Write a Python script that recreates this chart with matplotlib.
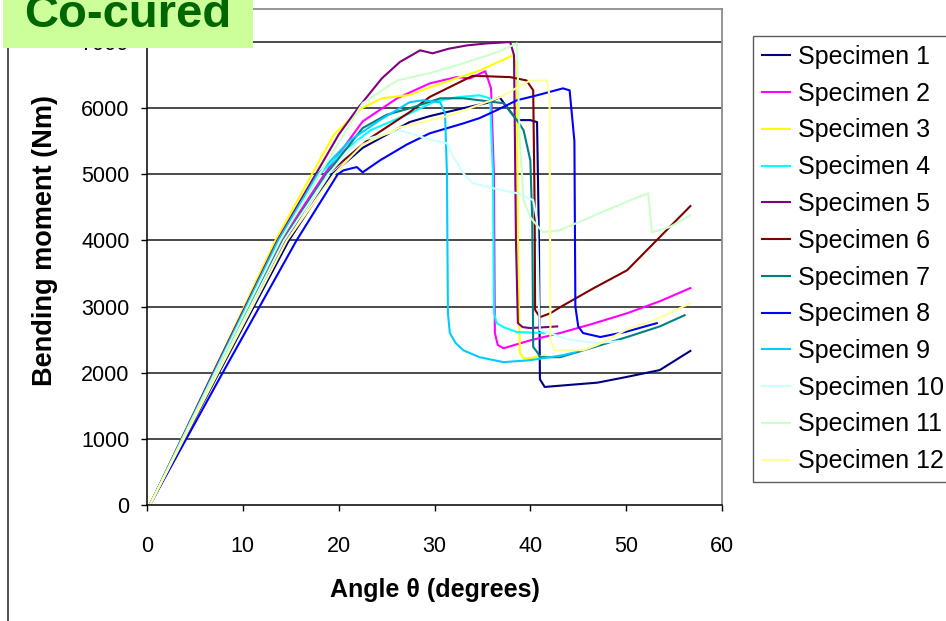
import matplotlib
matplotlib.use("Agg")
import matplotlib.pyplot as plt
from matplotlib.lines import Line2D
from matplotlib.patches import Rectangle

plt.rcParams['font.family'] = ['Liberation Sans', 'DejaVu Sans']

# Bending moment (Nm) against rotation angle (degrees) for each specimen
s1_angle = [0.3, 7.5, 14.8, 19.3, 22.5, 27.4, 29.5, 33.0, 35.5, 36.8, 37.4, 38.6, 40.0, 40.7, 40.9, 41.0, 41.5, 44.0, 47.0, 50.0, 53.5, 56.7]
s1_moment = [0, 2000, 4000, 5000, 5400, 5790, 5880, 6000, 6080, 6165, 6045, 5820, 5820, 5790, 4000, 1900, 1785, 1815, 1850, 1935, 2040, 2330]

s2_angle = [0.3, 7.1, 14.0, 18.5, 22.5, 26.1, 29.5, 32.3, 33.7, 35.3, 35.9, 36.2, 36.3, 36.6, 37.2, 40.0, 43.1, 46.5, 50.1, 53.5, 56.7]
s2_moment = [0, 2000, 4000, 5000, 5800, 6150, 6375, 6470, 6450, 6560, 6300, 5000, 2600, 2420, 2370, 2490, 2600, 2740, 2900, 3080, 3280]

s3_angle = [0.3, 6.9, 13.4, 17.2, 19.5, 22.4, 24.5, 27.4, 29.5, 34.7, 38.2, 38.6, 38.7, 38.9, 39.3, 40.0, 41.5]
s3_moment = [0, 2000, 4000, 5000, 5600, 6000, 6150, 6200, 6315, 6570, 6800, 6600, 4000, 2300, 2220, 2220, 2260]

s4_angle = [0.3, 7.0, 13.8, 18.0, 20.5, 23.3, 27.4, 30.0, 32.3, 34.7, 35.8, 36.1, 36.2, 36.5, 37.2, 38.6, 41.5]
s4_moment = [0, 2000, 4000, 5000, 5350, 5665, 5920, 6100, 6165, 6195, 6150, 5000, 2900, 2750, 2690, 2615, 2600]

s5_angle = [0.3, 6.9, 13.6, 17.6, 20.0, 22.0, 24.5, 26.4, 28.5, 29.8, 31.5, 33.4, 35.5, 37.9, 38.3, 38.5, 38.7, 39.2, 40.0, 42.8]
s5_moment = [0, 2000, 4000, 5000, 5600, 6000, 6450, 6700, 6875, 6830, 6900, 6950, 6980, 7000, 6800, 4000, 2750, 2690, 2675, 2700]

s6_angle = [0.3, 7.3, 14.4, 18.8, 23.3, 27.4, 29.5, 33.0, 34.0, 37.9, 39.6, 40.3, 40.45, 40.5, 41.0, 42.1, 43.1, 46.5, 50.1, 53.5, 56.7]
s6_moment = [0, 2000, 4000, 5000, 5550, 5940, 6170, 6420, 6490, 6470, 6420, 6270, 4500, 2950, 2840, 2900, 2990, 3270, 3550, 4050, 4520]

s7_angle = [0.3, 7.2, 14.2, 18.7, 22.5, 25.0, 27.8, 30.6, 33.0, 34.7, 37.2, 38.6, 39.3, 40.0, 40.2, 40.3, 40.8, 41.0, 43.1, 46.5, 50.1, 53.5, 56.1]
s7_moment = [0, 2000, 4000, 5000, 5700, 5900, 6015, 6150, 6150, 6120, 6075, 5820, 5665, 5210, 4305, 2390, 2295, 2235, 2235, 2380, 2540, 2700, 2870]

s8_angle = [0.3, 7.9, 15.6, 19.9, 20.5, 21.9, 22.5, 24.3, 27.1, 29.5, 33.0, 34.7, 36.5, 38.6, 40.7, 43.4, 44.1, 44.6, 44.7, 45.0, 45.5, 47.3, 50.0, 53.2]
s8_moment = [0, 2000, 4000, 5000, 5060, 5110, 5030, 5210, 5450, 5620, 5770, 5850, 5970, 6120, 6195, 6300, 6270, 5500, 3000, 2700, 2600, 2540, 2620, 2750]

s9_angle = [0.3, 7.0, 13.7, 17.8, 21.2, 24.3, 27.4, 28.8, 30.6, 31.1, 31.3, 31.4, 31.6, 32.2, 33.0, 34.7, 37.2, 40.0, 43.4, 44.7]
s9_moment = [0, 2000, 4000, 5000, 5515, 5820, 6090, 6120, 6090, 5920, 5000, 2900, 2600, 2450, 2340, 2235, 2160, 2190, 2265, 2310]

s10_angle = [0.3, 7.3, 14.3, 18.9, 22.0, 26.4, 29.8, 31.3, 32.0, 33.0, 34.0, 36.1, 38.6, 40.3, 40.7, 40.9, 41.0, 42.0, 44.0, 47.0, 49.5]
s10_moment = [0, 2000, 4000, 5000, 5500, 5665, 5515, 5470, 5260, 5015, 4865, 4790, 4715, 4610, 4305, 3000, 2645, 2600, 2500, 2450, 2480]

s11_angle = [0.3, 7.1, 13.9, 18.0, 22.5, 26.1, 29.5, 33.0, 36.5, 38.6, 38.9, 39.3, 40.0, 41.3, 43.1, 47.0, 50.0, 52.3, 52.5, 52.7, 54.5, 56.7]
s11_moment = [0, 2000, 4000, 5000, 6075, 6420, 6530, 6680, 6845, 6980, 5500, 4610, 4350, 4125, 4155, 4400, 4580, 4715, 4400, 4125, 4200, 4380]

s12_angle = [0.3, 7.4, 14.6, 19.5, 22.5, 26.4, 31.6, 36.8, 40.0, 41.7, 42.0, 42.1, 42.5, 45.5, 47.0, 50.0, 53.0, 56.7]
s12_moment = [0, 2000, 4000, 5000, 5450, 5710, 5890, 6165, 6420, 6420, 6200, 2500, 2340, 2340, 2420, 2650, 2800, 3050]

labels = [f"Specimen {i}" for i in range(1, 13)]
colors = ["#000080", "#FF00FF", "#FFFF00", "#00FFFF", "#800080", "#800000",
          "#008080", "#0000FF", "#00CCFF", "#CCFFFF", "#CCFFCC", "#FFFF99"]

angles = [s1_angle, s2_angle, s3_angle, s4_angle, s5_angle, s6_angle,
          s7_angle, s8_angle, s9_angle, s10_angle, s11_angle, s12_angle]
moments = [s1_moment, s2_moment, s3_moment, s4_moment, s5_moment, s6_moment,
           s7_moment, s8_moment, s9_moment, s10_moment, s11_moment, s12_moment]

W, H = 946, 621
fig = plt.figure(figsize=(W / 100, H / 100), dpi=100)
fig.patch.set_facecolor("white")

ax = fig.add_axes([147 / W, 1 - 505 / H, (722 - 147) / W, (505 - 9) / H])
ax.set_xlim(0, 60)
ax.set_ylim(0, 7500)

for y in range(1000, 8000, 1000):
    ax.axhline(y, color="#1a1a1a", lw=1.1, zorder=1)

handles = []
for a, m, c, lab in zip(angles, moments, colors, labels):
    ln, = ax.plot(a, m, color=c, lw=1.5, label=lab, zorder=2, solid_joinstyle="round")
    handles.append(ln)

ax.set_xticks(range(0, 61, 10))
ax.set_yticks(range(0, 7001, 1000))
ax.tick_params(axis="x", direction="out", length=4.5, width=1, pad=18, labelsize=15.5, color="black")
ax.tick_params(axis="y", direction="out", length=4.5, width=1, pad=8, labelsize=15.5, color="black")

for side in ("top", "right"):
    ax.spines[side].set_color("#8c8c8c")
    ax.spines[side].set_linewidth(1.3)
for side in ("left", "bottom"):
    ax.spines[side].set_color("black")
    ax.spines[side].set_linewidth(1.1)

ax.set_xlabel("Angle θ (degrees)", fontsize=18, fontweight="bold")
ax.set_ylabel("Bending moment (Nm)", fontsize=19.5, fontweight="bold")
ax.xaxis.set_label_coords(0.5, (505 - 590) / (505 - 9))
ax.yaxis.set_label_coords((45 - 147) / (722 - 147), (505 - 240) / (505 - 9))
ax.xaxis.label.set_va("center")
ax.yaxis.label.set_va("center")

leg = fig.legend(handles=handles, loc="upper left",
                 bbox_to_anchor=(753 / W, 1 - 36 / H),
                 fontsize=18, frameon=True, fancybox=False,
                 handlelength=1.1, handletextpad=0.35, labelspacing=0.51,
                 borderpad=0.36, borderaxespad=0)
leg.get_frame().set_edgecolor("#333333")
leg.get_frame().set_linewidth(1.0)

# chart area border on the left
fig.add_artist(Line2D([8 / W, 8 / W], [0, 1], transform=fig.transFigure,
                      color="#333333", lw=1.2))

# title box
fig.add_artist(Rectangle((3 / W, 1 - 48 / H), 250 / W, 48 / H,
                         transform=fig.transFigure, facecolor="#CCFF99",
                         edgecolor="none", zorder=10))
fig.text(128 / W, 1 - 27 / H, "Co-cured", fontsize=34, fontweight="bold",
         color="#006600", ha="center", va="baseline", zorder=11)

fig.savefig("out.png", dpi=100)
